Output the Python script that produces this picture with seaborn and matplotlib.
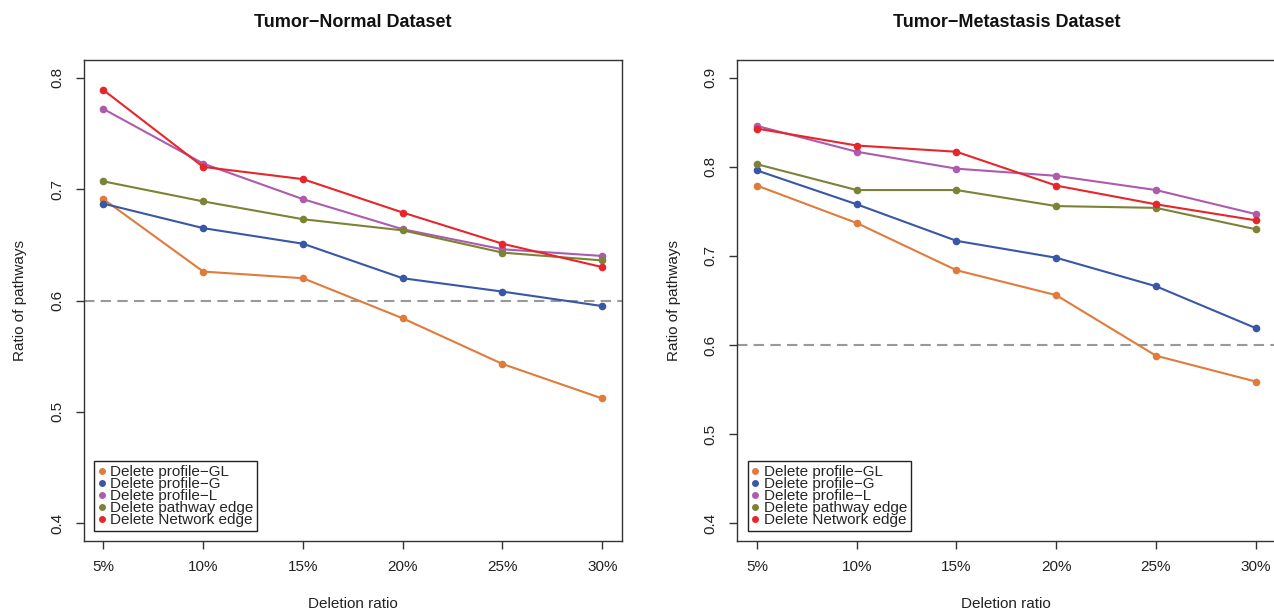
import pandas as pd
import matplotlib.pyplot as plt
import seaborn as sns
from matplotlib.lines import Line2D

# deletion ratios (%) on the x axis
ratios = [5, 10, 15, 20, 25, 30]
tick_labels = ['5%', '10%', '15%', '20%', '25%', '30%']

methods = ['Delete profile−GL', 'Delete profile−G', 'Delete profile−L',
           'Delete pathway edge', 'Delete Network edge']
colors = ['#E07B3C', '#3A57A7', '#AE5BAE', '#7C8236', '#E6262B']

# Tumor-Normal dataset
tn_gl = [0.691, 0.626, 0.620, 0.584, 0.543, 0.512]
tn_g = [0.687, 0.665, 0.651, 0.620, 0.608, 0.595]
tn_l = [0.772, 0.723, 0.691, 0.664, 0.646, 0.640]
tn_path = [0.707, 0.689, 0.673, 0.663, 0.643, 0.636]
tn_net = [0.789, 0.720, 0.709, 0.679, 0.651, 0.630]

# Tumor-Metastasis dataset
tm_gl = [0.779, 0.737, 0.684, 0.656, 0.588, 0.559]
tm_g = [0.796, 0.758, 0.717, 0.698, 0.666, 0.619]
tm_l = [0.846, 0.817, 0.798, 0.790, 0.774, 0.747]
tm_path = [0.803, 0.774, 0.774, 0.756, 0.754, 0.730]
tm_net = [0.843, 0.824, 0.817, 0.779, 0.758, 0.740]


def to_long(series):
    rows = []
    for name, vals in zip(methods, series):
        for r, v in zip(ratios, vals):
            rows.append({'ratio': r, 'value': v, 'method': name})
    return pd.DataFrame(rows)


def draw_panel(ax, df, title, ylim, yticks):
    sns.lineplot(data=df, x='ratio', y='value', hue='method', hue_order=methods,
                 palette=colors, marker='o', markersize=5.5, markeredgewidth=0,
                 linewidth=1.5, legend=False, ax=ax)
    ax.axhline(0.6, color='#999999', linewidth=1.5, dashes=(5, 3), zorder=0)
    ax.set_xlim(4, 31)
    ax.set_ylim(*ylim)
    ax.set_xticks(ratios)
    ax.set_xticklabels(tick_labels)
    ax.set_yticks(yticks)
    ax.set_yticklabels([f'{t:.1f}' for t in yticks], rotation=90, va='center')
    ax.tick_params(axis='both', which='major', direction='out', length=6, width=1,
                   color='#333333', labelsize=11, labelcolor='#222222', left=True, bottom=True)
    ax.tick_params(axis='x', pad=8)
    ax.tick_params(axis='y', pad=8)
    for sp in ax.spines.values():
        sp.set_visible(True)
        sp.set_color('#333333')
        sp.set_linewidth(1)
    ax.set_xlabel('Deletion ratio', fontsize=11, color='#222222')
    ax.set_ylabel('Ratio of pathways', fontsize=11, color='#222222')
    ax.xaxis.set_label_coords(0.5, -0.116)
    ax.yaxis.set_label_coords(-0.104, 0.5)
    ax.text(0.5, 1.077, title, transform=ax.transAxes, ha='center', va='center',
            fontsize=13, fontweight='bold', color='#111111')

    handles = [Line2D([], [], linestyle='none', marker='o', markersize=5,
                      markeredgewidth=0, color=c) for c in colors]
    leg = ax.legend(handles, methods, loc='lower left',
                    bbox_to_anchor=(10.5 / 538.7, 10 / 481), borderaxespad=0,
                    fontsize=11, handlelength=0.5, handletextpad=0.3,
                    labelspacing=-0.13, borderpad=0.25, frameon=True,
                    fancybox=False, framealpha=1)
    leg.get_frame().set_edgecolor('#222222')
    leg.get_frame().set_linewidth(1)


def main():
    sns.set_theme(style='white')
    plt.rcParams['font.family'] = ['Liberation Sans', 'DejaVu Sans']

    fig = plt.figure(figsize=(12.74, 6.14), dpi=100)
    ax1 = fig.add_axes([83.5 / 1274, 73 / 614, 538.7 / 1274, 481 / 614])
    ax2 = fig.add_axes([737 / 1274, 73 / 614, 538.7 / 1274, 481 / 614])

    tn = to_long([tn_gl, tn_g, tn_l, tn_path, tn_net])
    tm = to_long([tm_gl, tm_g, tm_l, tm_path, tm_net])

    draw_panel(ax1, tn, 'Tumor−Normal Dataset', (0.384, 0.816), [0.4, 0.5, 0.6, 0.7, 0.8])
    draw_panel(ax2, tm, 'Tumor−Metastasis Dataset', (0.38, 0.92), [0.4, 0.5, 0.6, 0.7, 0.8, 0.9])

    fig.savefig('out.png', dpi=100)


if __name__ == '__main__':
    main()
